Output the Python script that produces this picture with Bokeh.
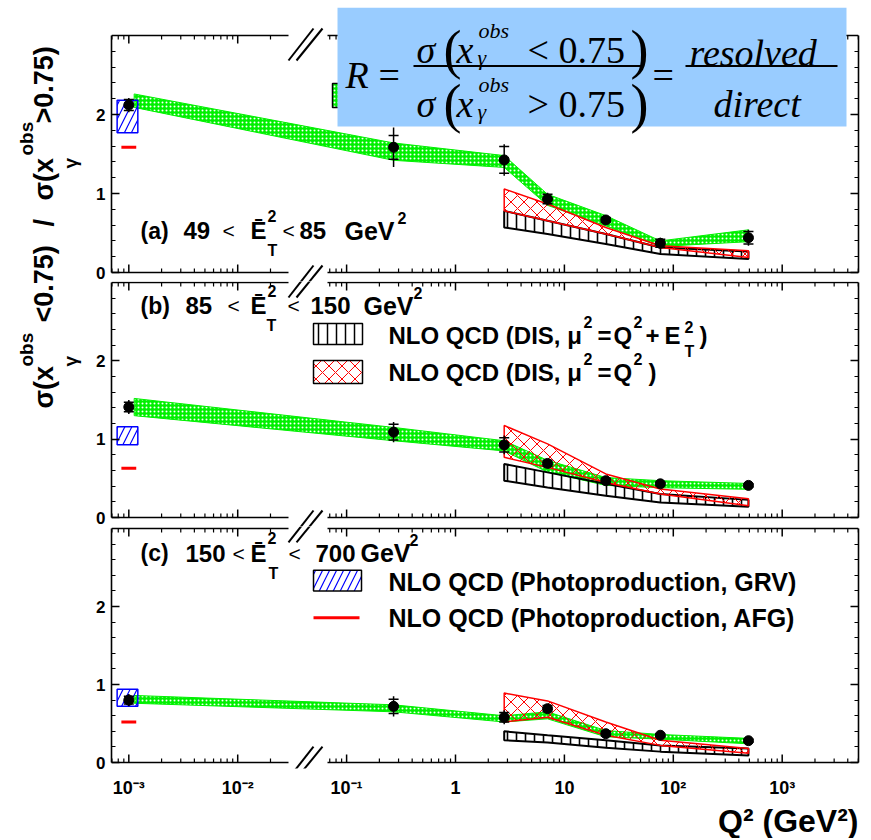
import numpy as np
from bokeh.plotting import figure
from bokeh.layouts import row, column
from bokeh.models import (FixedTicker, LinearAxis, Label, BoxAnnotation, Arrow,
                          Range1d, Title)
from bokeh.embed import file_html
from bokeh.resources import INLINE

# ------------------------------------------------------------------ data
Q2 = [0.001, 0.27, 2.8, 7.0, 24.0, 76.0, 490.0]

R_A = [2.12, 1.585, 1.425, 0.93, 0.665, 0.37, 0.44]
STAT_A = [0.07, 0.15, 0.17, 0.06, 0.03, 0.05, 0.08]
TOT_A = [0.09, 0.25, 0.20, 0.08, 0.035, 0.07, 0.10]
R_B = [1.41, 1.09, 0.927, 0.69, 0.47, 0.43, 0.41]
STAT_B = [0.06, 0.10, 0.09, 0.04, 0.03, 0.02, 0.02]
TOT_B = [0.09, 0.13, 0.12, 0.05, 0.04, 0.03, 0.03]
R_C = [0.80, 0.72, 0.58, 0.69, 0.37, 0.35, 0.28]
STAT_C = [0.05, 0.09, 0.06, 0.04, 0.03, 0.02, 0.02]
TOT_C = [0.08, 0.13, 0.09, 0.05, 0.03, 0.03, 0.02]

BAND_X = [0.00112, 0.27, 2.8, 7.0, 24.0, 76.0, 490.0]
GREEN_LO_A = [2.09, 1.42, 1.33, 0.85, 0.59, 0.33, 0.39]
GREEN_HI_A = [2.26, 1.64, 1.48, 0.99, 0.72, 0.40, 0.54]
GREEN_LO_B = [1.30, 0.98, 0.85, 0.58, 0.41, 0.38, 0.36]
GREEN_HI_B = [1.52, 1.15, 0.98, 0.73, 0.51, 0.47, 0.435]
GREEN_LO_C = [0.76, 0.65, 0.52, 0.56, 0.33, 0.30, 0.24]
GREEN_HI_C = [0.86, 0.74, 0.60, 0.65, 0.41, 0.36, 0.31]

DIS_X = [2.8, 7.0, 24.0, 76.0, 490.0]
# NLO QCD (DIS, mu^2 = Q^2 + ET^2)
SUM_HI_A = [0.78, 0.655, 0.487, 0.317, 0.266]
SUM_LO_A = [0.57, 0.487, 0.36, 0.233, 0.17]
SUM_HI_B = [0.683, 0.576, 0.43, 0.30, 0.225]
SUM_LO_B = [0.47, 0.384, 0.278, 0.192, 0.137]
SUM_HI_C = [0.40, 0.35, 0.286, 0.22, 0.18]
SUM_LO_C = [0.286, 0.257, 0.19, 0.14, 0.089]
# NLO QCD (DIS, mu^2 = Q^2)
Q2S_HI_A = [1.057, 0.867, 0.57, 0.338, 0.275]
Q2S_LO_A = [0.78, 0.655, 0.487, 0.317, 0.19]
Q2S_HI_B = [1.174, 0.94, 0.556, 0.364, 0.24]
Q2S_LO_B = [0.768, 0.64, 0.448, 0.30, 0.15]
Q2S_HI_C = [0.89, 0.79, 0.52, 0.286, 0.18]
Q2S_LO_C = [0.52, 0.58, 0.35, 0.22, 0.118]

# photoproduction predictions (Q2 ~ 0, drawn at 1e-3)
PHP_Q2 = 0.001
GRV_LO = [1.77, 0.93, 0.72]
GRV_HI = [2.18, 1.16, 0.94]
AFG = [1.585, 0.63, 0.52]

X_MAJOR = [1e-3, 1e-2, 1e-1, 1.0, 10.0, 100.0, 1000.0]
X_LABELS = ["10⁻³", "10⁻²", "10⁻¹", "1", "10", "10²", "10³"]
Y_MAJOR = [0, 1, 2]
Y_MINOR = [0.2, 0.4, 0.6, 0.8, 1.2, 1.4, 1.6, 1.8, 2.2, 2.4, 2.6, 2.8]
Y_TOP = 3.0

# ------------------------------------------------------------------ geometry / style
X_LO, X_HI = 6.935e-4, 5020.0
ONE_PX, DEC_PX = 455.0, 108.9          # page x of Q2=1, px per decade
FONT = "Liberation Sans"
SERIF = "Liberation Serif"
GREEN = "#00f000"
X_MINOR = [m * 10.0 ** e for e in range(-4, 4) for m in range(2, 10)
           if X_LO <= m * 10.0 ** e <= X_HI]


def xd(px):
    return 10 ** ((px - ONE_PX) / DEC_PX)


GAP_L, GAP_R = xd(288), xd(327)       # axis break


def style_yaxis(ax, show):
    ax.axis_line_color = "black"
    ax.axis_line_width = 1.6
    ax.bounds = (0, Y_TOP)
    ax.major_tick_in = 8
    ax.major_tick_out = 0
    ax.minor_tick_in = 4
    ax.minor_tick_out = 0
    ax.major_tick_line_width = 1.5
    ax.minor_tick_line_width = 1.2
    ax.major_tick_line_color = "black"
    ax.minor_tick_line_color = "black"
    ax.major_label_text_font = FONT
    ax.major_label_text_font_style = "bold"
    ax.major_label_text_color = "black"
    if show:
        ax.major_label_text_font_size = "17px"
        ax.major_label_standoff = 6
    else:
        ax.major_label_overrides = {v: "" for v in Y_MAJOR}
        ax.major_label_text_font_size = "1px"
        ax.major_label_text_alpha = 0
        ax.major_label_standoff = 0


def make_panel(h, bt, bb, yrng, show_x):
    p = figure(width=775, height=h, x_axis_type="log",
               x_range=Range1d(X_LO, X_HI), y_range=Range1d(*yrng),
               min_border_left=23, min_border_right=5,
               min_border_top=bt, min_border_bottom=bb,
               toolbar_location=None, output_backend="svg",
               outline_line_color=None,
               background_fill_color="white", border_fill_color="white")
    p.grid.visible = False
    xt = FixedTicker(ticks=X_MAJOR, minor_ticks=X_MINOR)
    yt = FixedTicker(ticks=Y_MAJOR, minor_ticks=Y_MINOR)
    bottom = p.below[0]
    left = p.left[0]
    bottom.ticker = xt
    left.ticker = yt
    right = LinearAxis(ticker=yt)
    p.add_layout(right, "right")
    style_yaxis(left, True)
    style_yaxis(right, False)
    if show_x:
        bottom.axis_line_color = None
        bottom.major_tick_in = 0
        bottom.major_tick_out = 0
        bottom.minor_tick_in = 0
        bottom.minor_tick_out = 0
        bottom.major_label_overrides = dict(zip(X_MAJOR, X_LABELS))
        bottom.major_label_text_font = FONT
        bottom.major_label_text_font_style = "bold"
        bottom.major_label_text_font_size = "18px"
        bottom.major_label_text_color = "black"
        bottom.major_label_standoff = 9
    else:
        bottom.visible = False
    return p


def frame_edges(p, U):
    """top and bottom frame lines with their inward ticks, broken at the axis break"""
    maj = [v for v in X_MAJOR if not (GAP_L < v < GAP_R)]
    mnr = [v for v in X_MINOR if not (GAP_L < v < GAP_R)]
    for yv, sgn in ((0.0, 1), (Y_TOP, -1)):
        p.segment(x0=[X_LO, GAP_R], x1=[GAP_L, X_HI], y0=[yv, yv], y1=[yv, yv],
                  line_color="black", line_width=1.6)
        p.segment(x0=maj, x1=maj, y0=[yv] * len(maj), y1=[yv + sgn * 8 / U] * len(maj),
                  line_color="black", line_width=1.5)
        p.segment(x0=mnr, x1=mnr, y0=[yv] * len(mnr), y1=[yv + sgn * 4 / U] * len(mnr),
                  line_color="black", line_width=1.2)


def draw_data(p, R, STAT, TOT, GLO, GHI, SLO, SHI, QLO, QHI, i):
    p.patch(BAND_X + BAND_X[::-1], GHI + GLO[::-1], fill_color=GREEN,
            line_color=GREEN, line_width=1, hatch_pattern=".",
            hatch_color="white", hatch_scale=4, hatch_weight=1)
    p.patch(DIS_X + DIS_X[::-1], SHI + SLO[::-1], fill_color=None,
            line_color="black", line_width=2, hatch_pattern="|",
            hatch_color="black", hatch_scale=9, hatch_weight=1.6)
    p.patch(DIS_X + DIS_X[::-1], QHI + QLO[::-1], fill_color=None,
            line_color="red", line_width=1.5, hatch_pattern="x",
            hatch_color="red", hatch_scale=13, hatch_weight=1)
    p.quad(left=[PHP_Q2 / 1.28], right=[PHP_Q2 * 1.21], bottom=[GRV_LO[i]],
           top=[GRV_HI[i]], fill_color=None, line_color="blue", line_width=1.5,
           hatch_pattern="/", hatch_color="blue", hatch_scale=14, hatch_weight=1.2)
    p.segment(x0=[PHP_Q2 / 1.17], x1=[PHP_Q2 * 1.17], y0=[AFG[i]], y1=[AFG[i]],
              line_color="red", line_width=3)
    lo = [r - t for r, t in zip(R, TOT)]
    hi = [r + t for r, t in zip(R, TOT)]
    p.segment(x0=Q2, y0=lo, x1=Q2, y1=hi, line_color="black", line_width=1.5)
    p.scatter(Q2, [r + s for r, s in zip(R, STAT)], marker="dash", size=10,
              line_color="black", line_width=1.5)
    p.scatter(Q2, [r - s for r, s in zip(R, STAT)], marker="dash", size=10,
              line_color="black", line_width=1.5)
    p.scatter(Q2, R, size=10, color="black")


def slashes(p, yd, centers):
    for cy in centers:
        for (x0, x1) in ((288, 313), (296, 322)):
            p.add_layout(Arrow(x_start=xd(x0), y_start=yd(cy + 16), x_end=xd(x1),
                               y_end=yd(cy - 16), start=None, end=None,
                               line_color="black", line_width=2))


def txt(p, yd, px, py, text, size, bold=True, italic=False, font=FONT,
        baseline="middle", align="left", color="black"):
    style = "bold" if bold else "normal"
    if italic:
        style = "bold italic" if bold else "italic"
    p.add_layout(Label(x=xd(px), y=yd(py), text=text, text_font=font,
                       text_font_size=f"{size}px", text_font_style=style,
                       text_baseline=baseline, text_align=align, text_color=color))


def title_row(p, yd, cy, label, n1, n2, xs):
    x_lab, x_n1, x_lt1, x_E, x_sup, x_sub, x_lt2, x_n2, x_gev, x_gsup = xs
    txt(p, yd, x_lab, cy, label, 23)
    txt(p, yd, x_n1, cy, n1, 24)
    txt(p, yd, x_lt1, cy, "<", 21, bold=False)
    txt(p, yd, x_E, cy, "Ē", 24)
    txt(p, yd, x_sup, cy - 15, "2", 16)
    txt(p, yd, x_sub, cy + 20, "T", 16)
    txt(p, yd, x_lt2, cy, "<", 21, bold=False)
    txt(p, yd, x_n2, cy, n2, 24)
    txt(p, yd, x_gev, cy, "GeV", 25)
    txt(p, yd, x_gsup, cy - 13, "2", 16)


# page rows: p1 canvas 0..281 (frame 7..281), p2 281..526, p3 526..838 (frame ..770)
H1, H2, H3 = 281, 245, 312

# ------------------------------------------------------------------ panel (a)
Y0A, UA = 272.0, 79.0
def yda(py): return (Y0A - py) / UA
p1 = make_panel(H1, 7, 0, (yda(281), yda(7)), False)
# partially hidden legend box of the green band
p1.quad(left=[xd(332)], right=[xd(400)], bottom=[yda(107)], top=[yda(83)],
        fill_color=GREEN, line_color="black", line_width=1.5, hatch_pattern=".",
        hatch_color="white", hatch_scale=4, hatch_weight=1)
draw_data(p1, R_A, STAT_A, TOT_A, GREEN_LO_A, GREEN_HI_A, SUM_LO_A, SUM_HI_A,
          Q2S_LO_A, Q2S_HI_A, 0)
frame_edges(p1, UA)
title_row(p1, yda, 230, "(a)", "49", "85",
          (140, 183, 222, 250, 267, 267, 282, 299, 344, 397))
slashes(p1, yda, (44, 281))

# formula box
p1.add_layout(BoxAnnotation(left=xd(337), right=xd(846), top=yda(7), bottom=yda(126),
                            fill_color="#99ccff", fill_alpha=1, line_color=None))
def ftxt(px, py, text, size, italic=True):
    p1.add_layout(Label(x=xd(px), y=yda(py), text=text, text_font=SERIF,
                        text_font_size=f"{size}px",
                        text_font_style="italic" if italic else "normal",
                        text_baseline="alphabetic", text_align="left", text_color="black"))
ftxt(345, 74, "R", 38)
ftxt(378, 74, "=", 38, italic=False)
for base, rel in ((49, "< 0.75"), (103, "> 0.75")):
    ftxt(416, base, "σ", 38)
    ftxt(443, base, "(", 54, italic=False)
    ftxt(456, base, "x", 38)
    ftxt(478, base - 19, "obs", 22)
    ftxt(477, base + 8, "γ", 22)
    ftxt(527, base, rel, 38, italic=False)
    ftxt(630, base, ")", 54, italic=False)
ftxt(652, 74, "=", 38, italic=False)
ftxt(689, 52, "resolved", 38)
ftxt(713, 103, "direct", 38)
for (a, b) in ((413, 642), (685, 837)):
    p1.add_layout(BoxAnnotation(left=xd(a), right=xd(b), top=yda(64.5), bottom=yda(66.5),
                                fill_color="black", fill_alpha=1, line_color=None))

# ------------------------------------------------------------------ panel (b)
Y0B, UB = 517.0, 235.0 / 3
def ydb(py): return (Y0B - py) / UB
p2 = make_panel(H2, 0, 0, (ydb(526), ydb(281)), False)
draw_data(p2, R_B, STAT_B, TOT_B, GREEN_LO_B, GREEN_HI_B, SUM_LO_B, SUM_HI_B,
          Q2S_LO_B, Q2S_HI_B, 1)
# legend
p2.quad(left=[xd(313)], right=[xd(362)], bottom=[ydb(344)], top=[ydb(323)],
        fill_color="white", line_color="black", line_width=1.5, hatch_pattern="|",
        hatch_color="black", hatch_scale=9, hatch_weight=1.5)
p2.quad(left=[xd(313)], right=[xd(362)], bottom=[ydb(383)], top=[ydb(360)],
        fill_color="white", line_color="black", line_width=1.5, hatch_pattern="x",
        hatch_color="red", hatch_scale=13, hatch_weight=1)
frame_edges(p2, UB)
title_row(p2, ydb, 305, "(b)", "85", "150",
          (140, 185, 227, 250, 267, 266, 287, 310, 363, 413))
txt(p2, ydb, 388, 335, "NLO QCD (DIS, μ", 24)
txt(p2, ydb, 583, 321, "2", 16)
txt(p2, ydb, 597, 335, "=", 24)
txt(p2, ydb, 613, 335, "Q", 24)
txt(p2, ydb, 633, 321, "2", 16)
txt(p2, ydb, 645, 335, "+", 24)
txt(p2, ydb, 664, 335, "E", 24)
txt(p2, ydb, 684, 326, "2", 16)
txt(p2, ydb, 684, 351, "T", 16)
txt(p2, ydb, 699, 335, ")", 24)
txt(p2, ydb, 388, 372, "NLO QCD (DIS, μ", 24)
txt(p2, ydb, 583, 358, "2", 16)
txt(p2, ydb, 597, 372, "=", 24)
txt(p2, ydb, 613, 372, "Q", 24)
txt(p2, ydb, 633, 358, "2", 16)
txt(p2, ydb, 648, 372, ")", 24)
slashes(p2, ydb, (281, 526))

# ------------------------------------------------------------------ panel (c)
Y0C, UC = 764.0, 236.0 / 3
def ydc(py): return (Y0C - py) / UC
p3 = make_panel(H3, 0, 68, (ydc(770), ydc(526)), True)
draw_data(p3, R_C, STAT_C, TOT_C, GREEN_LO_C, GREEN_HI_C, SUM_LO_C, SUM_HI_C,
          Q2S_LO_C, Q2S_HI_C, 2)
p3.quad(left=[xd(313)], right=[xd(361)], bottom=[ydc(591)], top=[ydc(570)],
        fill_color="white", line_color="black", line_width=1.5, hatch_pattern="/",
        hatch_color="blue", hatch_scale=14, hatch_weight=1.2)
p3.segment(x0=[xd(313)], x1=[xd(359)], y0=[ydc(618)], y1=[ydc(618)],
           line_color="red", line_width=3)
frame_edges(p3, UC)
title_row(p3, ydc, 553, "(c)", "150", "700",
          (140, 185, 232, 250, 267, 268, 288, 315, 360, 409))
txt(p3, ydc, 388, 582, "NLO QCD (Photoproduction, GRV)", 25)
txt(p3, ydc, 388, 618, "NLO QCD (Photoproduction, AFG)", 25)
slashes(p3, ydc, (526, 764))
p3.add_layout(Title(text="Q² (GeV²)", align="right", text_font=FONT,
                    text_font_size="32px", text_font_style="bold",
                    text_color="black", standoff=0), "below")

# ------------------------------------------------------------------ y title
TOTAL_H = H1 + H2 + H3
t = figure(width=88, height=TOTAL_H, x_range=Range1d(0, 88), y_range=Range1d(0, TOTAL_H),
           min_border=0, toolbar_location=None, output_backend="svg",
           x_axis_location=None, y_axis_location=None, outline_line_color=None)
t.grid.visible = False
def ytit(px, py, text, size):
    t.add_layout(Label(x=px, y=TOTAL_H - py, text=text, angle=np.pi / 2,
                       text_font=FONT, text_font_size=f"{size}px", text_font_style="bold",
                       text_baseline="middle", text_align="left", text_color="black"))
ytit(43, 408, "σ(x", 27)
ytit(26, 366, "obs", 19)
ytit(70, 366, "γ", 19)
ytit(43, 322, "<0.75)", 27)
ytit(43, 226, "/", 27)
ytit(43, 200, "σ(x", 27)
ytit(26, 155, "obs", 19)
ytit(70, 168, "γ", 19)
ytit(43, 123, ">0.75)", 27)

layout = row(t, column(p1, p2, p3))
open("out.html", "w").write(file_html(layout, INLINE))
